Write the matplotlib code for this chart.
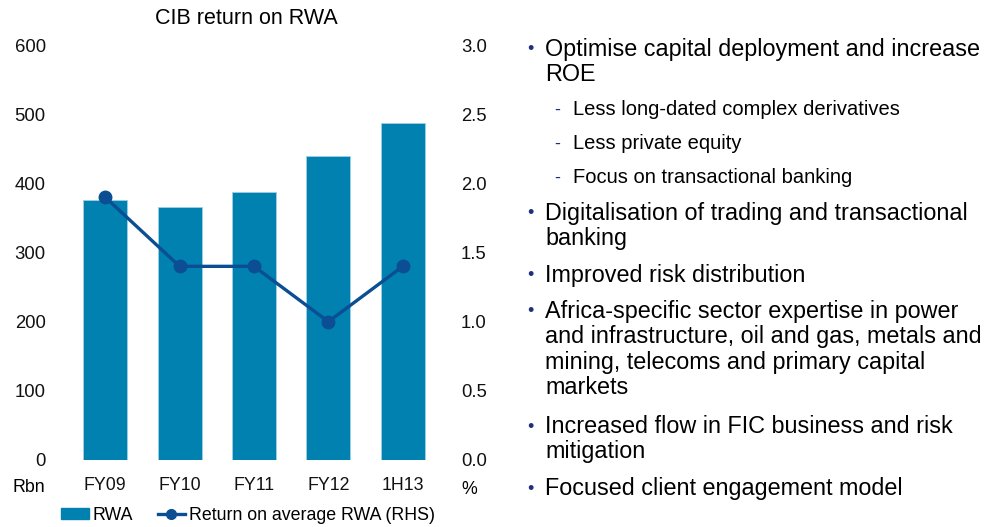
import matplotlib.pyplot as plt
from matplotlib.patches import Patch
from matplotlib.lines import Line2D

plt.rcParams['font.family'] = ['Liberation Sans', 'DejaVu Sans']

# data
periods = ['FY09', 'FY10', 'FY11', 'FY12', '1H13']
rwa = [376, 366, 388, 440, 487]              # Rbn, left axis
return_rwa = [1.9, 1.4, 1.4, 1.0, 1.4]       # %, right axis

left_ticks = [0, 100, 200, 300, 400, 500, 600]
right_ticks = [0.0, 0.5, 1.0, 1.5, 2.0, 2.5, 3.0]

bullets = [
    ('main', 'Optimise capital deployment and increase\nROE'),
    ('sub', 'Less long-dated complex derivatives'),
    ('sub', 'Less private equity'),
    ('sub', 'Focus on transactional banking'),
    ('main', 'Digitalisation of trading and transactional\nbanking'),
    ('main', 'Improved risk distribution'),
    ('main', 'Africa-specific sector expertise in power\nand infrastructure, oil and gas, metals and\nmining, telecoms and primary capital\nmarkets'),
    ('main', 'Increased flow in FIC business and risk\nmitigation'),
    ('main', 'Focused client engagement model'),
]
# baseline of the first line of each bullet (pixels from top)
bullet_base = [56, 115, 149, 183, 220, 282, 318, 433, 495]
line_step = 25.3

bar_color = '#0081AF'
line_color = '#0B4E93'
navy = '#1F2F7E'

W, H = 995, 527
fig = plt.figure(figsize=(W / 100, H / 100), dpi=100)
ax = fig.add_axes([68 / W, 1 - 460 / H, (440 - 68) / W, (460 - 45) / H])
ax2 = ax.twinx()

x = range(len(periods))
ax.bar(x, rwa, width=0.59, color=bar_color, edgecolor='#9fd0e4', linewidth=0.6, zorder=2)
ax2.plot(x, return_rwa, color=line_color, linewidth=2.4, marker='o', markersize=9, zorder=3)

ax.set_xlim(-0.5, len(periods) - 0.5)
ax.set_ylim(0, 600)
ax2.set_ylim(0, 3.0)
ax.set_yticks(left_ticks)
ax.set_yticklabels([str(v) for v in left_ticks])
ax2.set_yticks(right_ticks)
ax2.set_yticklabels(['%.1f' % v for v in right_ticks])
ax.set_xticks(list(x))
ax.set_xticklabels(periods)

for a in (ax, ax2):
    for s in a.spines.values():
        s.set_visible(False)
    a.tick_params(length=0, labelsize=13.3, colors='#111111')
ax.tick_params(axis='y', pad=16)
ax2.tick_params(axis='y', pad=15)
ax.tick_params(axis='x', pad=12, labelsize=12.8)

fig.text(246 / W, 1 - 18 / H, 'CIB return on RWA', ha='center', va='center', fontsize=15.5)
fig.text(29 / W, 1 - 488 / H, 'Rbn', ha='center', va='center', fontsize=12.8)
fig.text(469 / W, 1 - 489 / H, '%', ha='center', va='center', fontsize=12.8)

handles = [Patch(color=bar_color),
           Line2D([], [], color=line_color, linewidth=2.4, marker='o', markersize=7)]
fig.legend(handles, ['RWA', 'Return on average RWA (RHS)'], loc='center',
           bbox_to_anchor=(248 / W, 1 - 515 / H), ncol=2, frameon=False,
           fontsize=12.8, handlelength=1.55, handleheight=0.6, handletextpad=0.2,
           columnspacing=1.4)

# bullet list on the right
for (kind, txt), base in zip(bullets, bullet_base):
    lines = txt.split('\n')
    if kind == 'main':
        fig.text(530 / W, 1 - (base - 1.5) / H, '•', color=navy, fontsize=13,
                 ha='center', va='baseline')
        for i, ln in enumerate(lines):
            fig.text(545 / W, 1 - (base + i * line_step) / H, ln, fontsize=16.8,
                     va='baseline', ha='left')
    else:
        fig.text(557 / W, 1 - base / H, '-', color=navy, fontsize=13,
                 ha='center', va='baseline')
        fig.text(573 / W, 1 - base / H, txt, fontsize=14.5, va='baseline', ha='left')

fig.savefig('out.png', dpi=100)
